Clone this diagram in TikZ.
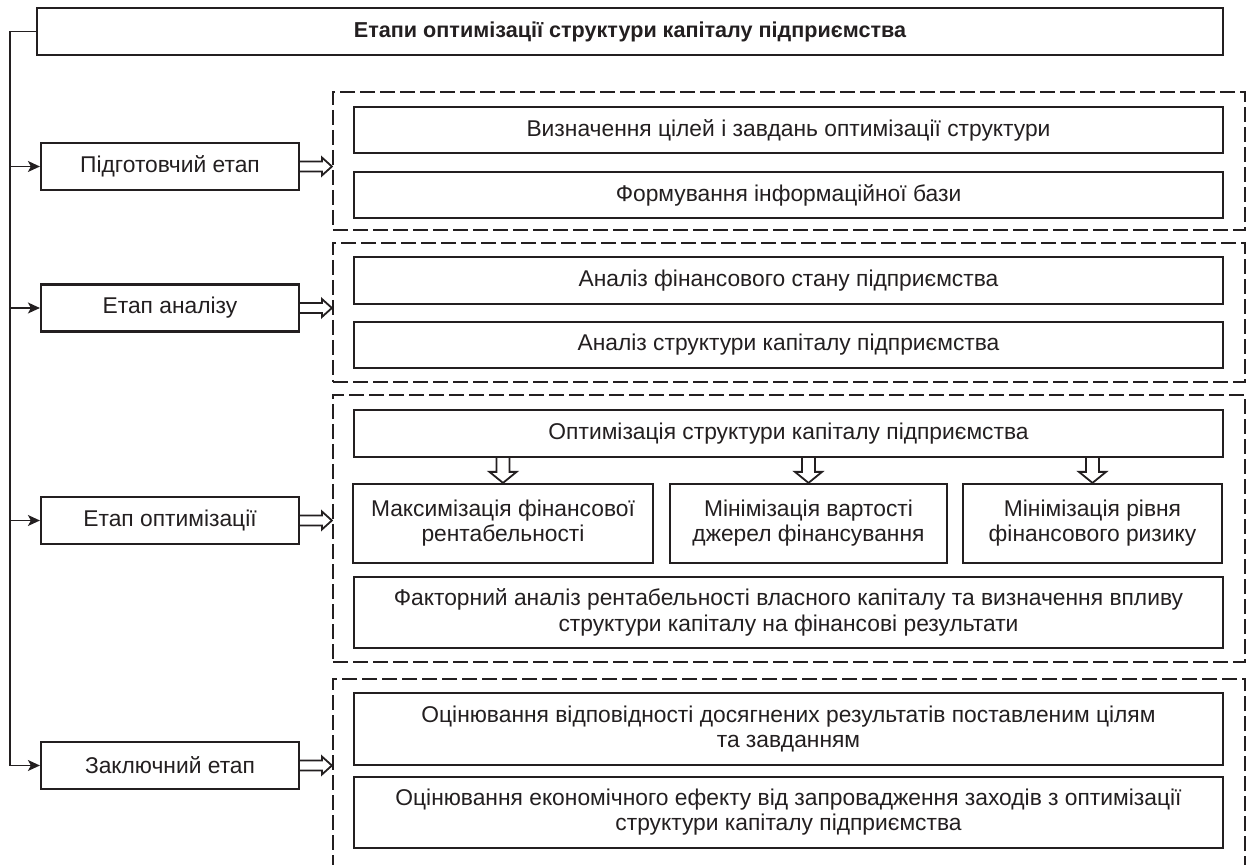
\documentclass[tikz,border=0pt]{standalone}
\usepackage{fontspec}
\setmainfont{Liberation Sans}
\usetikzlibrary{calc,arrows.meta}
\definecolor{ink}{RGB}{35,31,32}
\newcommand\rightfat[2]{%
  \draw[fatarrow] ($(#1)+(0,-5)$) -- ($(#2)+(-10,-5)$) -- ($(#2)+(-10,-9)$) -- (#2) -- ($(#2)+(-10,9)$) -- ($(#2)+(-10,5)$) -- ($(#1)+(0,5)$);}
\newcommand\downfat[2]{%
  \draw[fatarrow] ($(#1)+(-6.5,0)$) -- ($(#2)+(-6.5,-11)$) -- ($(#2)+(-13.5,-11)$) -- (#2) -- ($(#2)+(13.5,-11)$) -- ($(#2)+(6.5,-11)$) -- ($(#1)+(6.5,0)$);}
\tikzset{
  box/.style={draw=ink, text=ink, line width=1.1pt, fill=white, inner sep=0pt, align=center,
    font=\fontsize{11.4}{12.6}\selectfont},
  stagebox/.style={box, minimum width=129pt, minimum height=23.5pt},
  widebox/.style={box, minimum width=434.5pt},
  dbox/.style={draw=ink, line width=1.1pt, dash pattern=on 7.5pt off 2.5pt, inner sep=0pt, minimum width=456pt},
  conn/.style={draw=ink, line width=0.7pt},
  connarrow/.style={conn, -{Stealth[length=6pt,width=5.5pt,inset=1.5pt]}},
  fatarrow/.style={draw=ink, line width=0.9pt, fill=white, line join=miter},
}
\begin{document}
\begin{tikzpicture}[x=0.5pt,y=-0.5pt]
\path[use as bounding box, clip] (0,0) rectangle (1247,865);
\fill[white] (0,0) rectangle (1247,865);
% title
\node[box, minimum width=593pt, minimum height=23.5pt, font=\fontsize{10.8}{12.6}\selectfont\bfseries] (title) at (630,31.5) {Етапи оптимізації структури капіталу підприємства};
% stages
\node[stagebox] (s1) at (170,166.5) {Підготовчий етап};
\node[stagebox] (s2) at (170,308) {Етап аналізу};
\node[stagebox] (s3) at (170,520.5) {Етап оптимізації};
\node[stagebox] (s4) at (170,765.5) {Заключний етап};
% dashed groups
\node[dbox, minimum height=69pt] (D1) at (789,161) {};
\node[dbox, minimum height=69.5pt] (D2) at (789,312.5) {};
\node[dbox, minimum height=133.5pt] (D3) at (789,528.5) {};
\node[dbox, minimum height=110pt] (D4) at (789,789) {};
% group 1
\node[widebox, minimum height=23pt] (a1) at (788.5,130) {Визначення цілей і завдань оптимізації структури};
\node[widebox, minimum height=23pt] (a2) at (788.5,195) {Формування інформаційної бази};
% group 2
\node[widebox, minimum height=23.5pt] (b1) at (788.5,280.5) {Аналіз фінансового стану підприємства};
\node[widebox, minimum height=23pt] (b2) at (788.5,345) {Аналіз структури капіталу підприємства};
% group 3
\node[widebox, minimum height=23.5pt] (c0) at (788.5,433.5) {Оптимізація структури капіталу підприємства};
\node[box, minimum width=150pt, minimum height=39.5pt] (c1) at (503,523.5) {Максимізація фінансової\\рентабельності};
\node[box, minimum width=138.5pt, minimum height=39.5pt] (c2) at (808.5,523.5) {Мінімізація вартості\\джерел фінансування};
\node[box, minimum width=129.5pt, minimum height=39.5pt] (c3) at (1092.5,523.5) {Мінімізація рівня\\фінансового ризику};
\node[widebox, minimum height=35.5pt] (c4) at (788.5,612.5) {Факторний аналіз рентабельності власного капіталу та визначення впливу\\структури капіталу на фінансові результати};
% group 4
\node[widebox, minimum height=36pt] (d1) at (788.5,729) {Оцінювання відповідності досягнених результатів поставленим цілям\\та завданням};
\node[widebox, minimum height=35.5pt] (d2) at (788.5,812.5) {Оцінювання економічного ефекту від запровадження заходів з оптимізації\\структури капіталу підприємства};
% left connector
\coordinate (Lt) at (10,31.5);
\coordinate (Lb) at (Lt |- s4.west);
\draw[conn] (title.west) -- (Lt) -- (Lb);
\draw[connarrow] (Lt |- s1.west) -- (s1.west);
\draw[connarrow] (Lt |- s2.west) -- (s2.west);
\draw[connarrow] (Lt |- s3.west) -- (s3.west);
\draw[connarrow] (Lb) -- (s4.west);
% stage -> group arrows
\coordinate (e1) at (D1.west |- s1.east);
\coordinate (e2) at (D2.west |- s2.east);
\coordinate (e3) at (D3.west |- s3.east);
\coordinate (e4) at (D4.west |- s4.east);
\rightfat{s1.east}{e1}
\rightfat{s2.east}{e2}
\rightfat{s3.east}{e3}
\rightfat{s4.east}{e4}
% down arrows
\coordinate (f1) at (c1.north |- c0.south);
\coordinate (f2) at (c2.north |- c0.south);
\coordinate (f3) at (c3.north |- c0.south);
\downfat{f1}{c1.north}
\downfat{f2}{c2.north}
\downfat{f3}{c3.north}
\end{tikzpicture}
\end{document}
